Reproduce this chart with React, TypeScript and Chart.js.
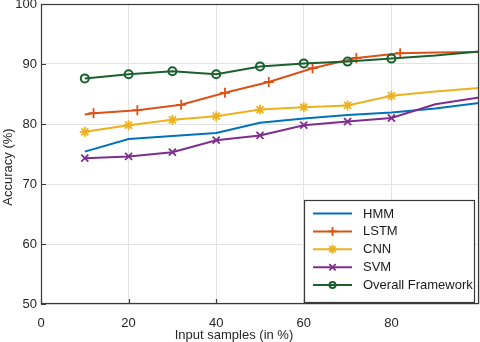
import React, { useEffect, useRef } from "react";
import { Chart, registerables } from "chart.js";
import { drawPoint } from "chart.js/helpers";

Chart.register(...registerables);

const seriesNames = ["HMM", "LSTM", "CNN", "SVM", "Overall Framework"];
const seriesColors = ["#0072BD", "#D95319", "#EDB120", "#7E2F8E", "#1b6130"];
const seriesMarkers = [false, "cross", "star", "crossRot", "circle"];

const xStd = [10, 20, 30, 40, 50, 60, 70, 80, 90, 100];
const xLstm = [10, 12, 22, 32, 42, 52, 62, 72, 82, 90, 100];

const hmmValues = [75.4, 77.5, 78.0, 78.5, 80.2, 80.9, 81.5, 81.9, 82.6, 83.5];
const lstmValues = [81.6, 81.8, 82.3, 83.2, 85.2, 87.0, 89.3, 91.0, 91.8, 91.9, 92.0];
const cnnValues = [78.7, 79.8, 80.7, 81.3, 82.4, 82.8, 83.1, 84.7, 85.4, 86.0];
const svmValues = [74.3, 74.6, 75.3, 77.3, 78.1, 79.8, 80.4, 81.0, 83.3, 84.4];
const overallValues = [87.6, 88.3, 88.8, 88.3, 89.6, 90.1, 90.4, 90.9, 91.4, 92.1];

const xTicks = [0, 20, 40, 60, 80];
const yTicks = [50, 60, 70, 80, 90, 100];
const xTitle = "Input samples (in %)";
const yTitle = "Accuracy (%)";

const FONT = "'Liberation Sans', Arial, sans-serif";

function pts(xs: number[], ys: number[]) {
  return xs.map((x, i) => ({ x, y: ys[i] }));
}

export default function App() {
  const ref = useRef<HTMLCanvasElement | null>(null);

  useEffect(() => {
    const canvas = ref.current;
    if (!canvas) return;

    const allData = [
      pts(xStd, hmmValues),
      pts(xLstm, lstmValues),
      pts(xStd, cnnValues),
      pts(xStd, svmValues),
      pts(xStd, overallValues),
    ];

    const datasets = allData.map((d, i) => {
      const marker = seriesMarkers[i];
      const startIdx = i === 1 ? 1 : 0;
      const radii = d.map((_, j) =>
        marker && j >= startIdx && j < startIdx + 8 ? (marker === "circle" ? 4 : 5) : 0
      );
      return {
        label: seriesNames[i],
        data: d,
        borderColor: seriesColors[i],
        backgroundColor: marker === "circle" ? "rgba(255,255,255,0)" : seriesColors[i],
        borderWidth: 2,
        pointStyle: (marker || "circle") as any,
        pointRadius: radii,
        pointBorderWidth: marker === "circle" ? 2 : 1.8,
        pointBorderColor: seriesColors[i],
        pointBackgroundColor: marker === "circle" ? "rgba(255,255,255,0)" : seriesColors[i],
        tension: 0,
        fill: false,
        order: 5 - i,
      };
    });

    const decor = {
      id: "decor",
      afterDraw(chart: any) {
        const ctx = chart.ctx;
        const { left, right, top, bottom } = chart.chartArea;
        const xs = chart.scales.x;
        const ys = chart.scales.y;
        ctx.save();
        // axes box
        ctx.strokeStyle = "#3a3a3a";
        ctx.lineWidth = 1.2;
        ctx.strokeRect(left + 0.5, top + 0.5, right - left - 1, bottom - top - 1);
        // inward ticks
        ctx.beginPath();
        xTicks.forEach((v) => {
          const px = Math.round(xs.getPixelForValue(v)) + 0.5;
          ctx.moveTo(px, bottom);
          ctx.lineTo(px, bottom - 5);
        });
        yTicks.forEach((v) => {
          const py = Math.round(ys.getPixelForValue(v)) + 0.5;
          ctx.moveTo(left, py);
          ctx.lineTo(left + 5, py);
        });
        ctx.stroke();

        // axis titles
        ctx.fillStyle = "#262626";
        ctx.font = `13px ${FONT}`;
        ctx.textAlign = "center";
        ctx.textBaseline = "middle";
        ctx.fillText(xTitle, 234, 335);
        ctx.save();
        ctx.translate(8, 167);
        ctx.rotate(-Math.PI / 2);
        ctx.fillText(yTitle, 0, 0);
        ctx.restore();

        // legend
        const bx = 304, by = 200, bw = 170, bh = 102;
        ctx.fillStyle = "#ffffff";
        ctx.fillRect(bx, by, bw, bh);
        ctx.strokeStyle = "#3a3a3a";
        ctx.lineWidth = 1.2;
        ctx.strokeRect(bx + 0.5, by + 0.5, bw, bh);
        seriesNames.forEach((name, i) => {
          const cy = 213.5 + i * 17.9;
          ctx.strokeStyle = seriesColors[i];
          ctx.lineWidth = 2;
          ctx.beginPath();
          ctx.moveTo(313, cy);
          ctx.lineTo(352, cy);
          ctx.stroke();
          const m = seriesMarkers[i];
          if (m) {
            ctx.fillStyle = m === "circle" ? "rgba(255,255,255,0)" : seriesColors[i];
            ctx.strokeStyle = seriesColors[i];
            ctx.lineWidth = m === "circle" ? 2 : 1.8;
            drawPoint(ctx, { pointStyle: m as any, radius: m === "circle" ? 3 : 4.5, rotation: 0, borderWidth: ctx.lineWidth }, 332.5, cy);
          }
          ctx.fillStyle = "#1a1a1a";
          ctx.font = `13px ${FONT}`;
          ctx.textAlign = "left";
          ctx.textBaseline = "middle";
          ctx.fillText(name, 363, cy + 0.5);
        });
        ctx.restore();
      },
    };

    const chart = new Chart(canvas, {
      type: "line",
      data: { datasets: datasets as any },
      options: {
        animation: false,
        responsive: false,
        maintainAspectRatio: false,
        layout: { autoPadding: false, padding: { top: 4, right: 1, left: 0, bottom: 0 } },
        plugins: { legend: { display: false }, tooltip: { enabled: false } },
        scales: {
          x: {
            type: "linear",
            min: 0,
            max: 100,
            border: { display: false },
            grid: { color: "#e3e3e3", drawTicks: false, lineWidth: 1 },
            afterBuildTicks: (s: any) => {
              s.ticks = [...xTicks, 100].map((v) => ({ value: v }));
            },
            ticks: {
              autoSkip: false,
              maxRotation: 0,
              padding: 12,
              color: "#262626",
              font: { size: 13, family: FONT },
              callback: (v: any) => (v === 100 ? "" : String(v)),
            },
            afterFit: (s: any) => {
              s.height = 38;
              s.paddingLeft = 0;
              s.paddingRight = 0;
            },
          },
          y: {
            type: "linear",
            min: 50,
            max: 100,
            border: { display: false },
            grid: { color: "#e3e3e3", drawTicks: false, lineWidth: 1 },
            afterBuildTicks: (s: any) => {
              s.ticks = yTicks.map((v) => ({ value: v }));
            },
            ticks: {
              autoSkip: false,
              padding: 4,
              color: "#262626",
              font: { size: 13, family: FONT },
            },
            afterFit: (s: any) => {
              s.width = 41;
              s.paddingTop = 0;
              s.paddingBottom = 0;
            },
          },
        },
      },
      plugins: [decor],
    });

    return () => chart.destroy();
  }, []);

  return (
    <div style={{ position: "absolute", left: 0, top: 0, width: 480, height: 342, background: "#fff" }}>
      <canvas ref={ref} width={480} height={342} style={{ display: "block" }} />
    </div>
  );
}
